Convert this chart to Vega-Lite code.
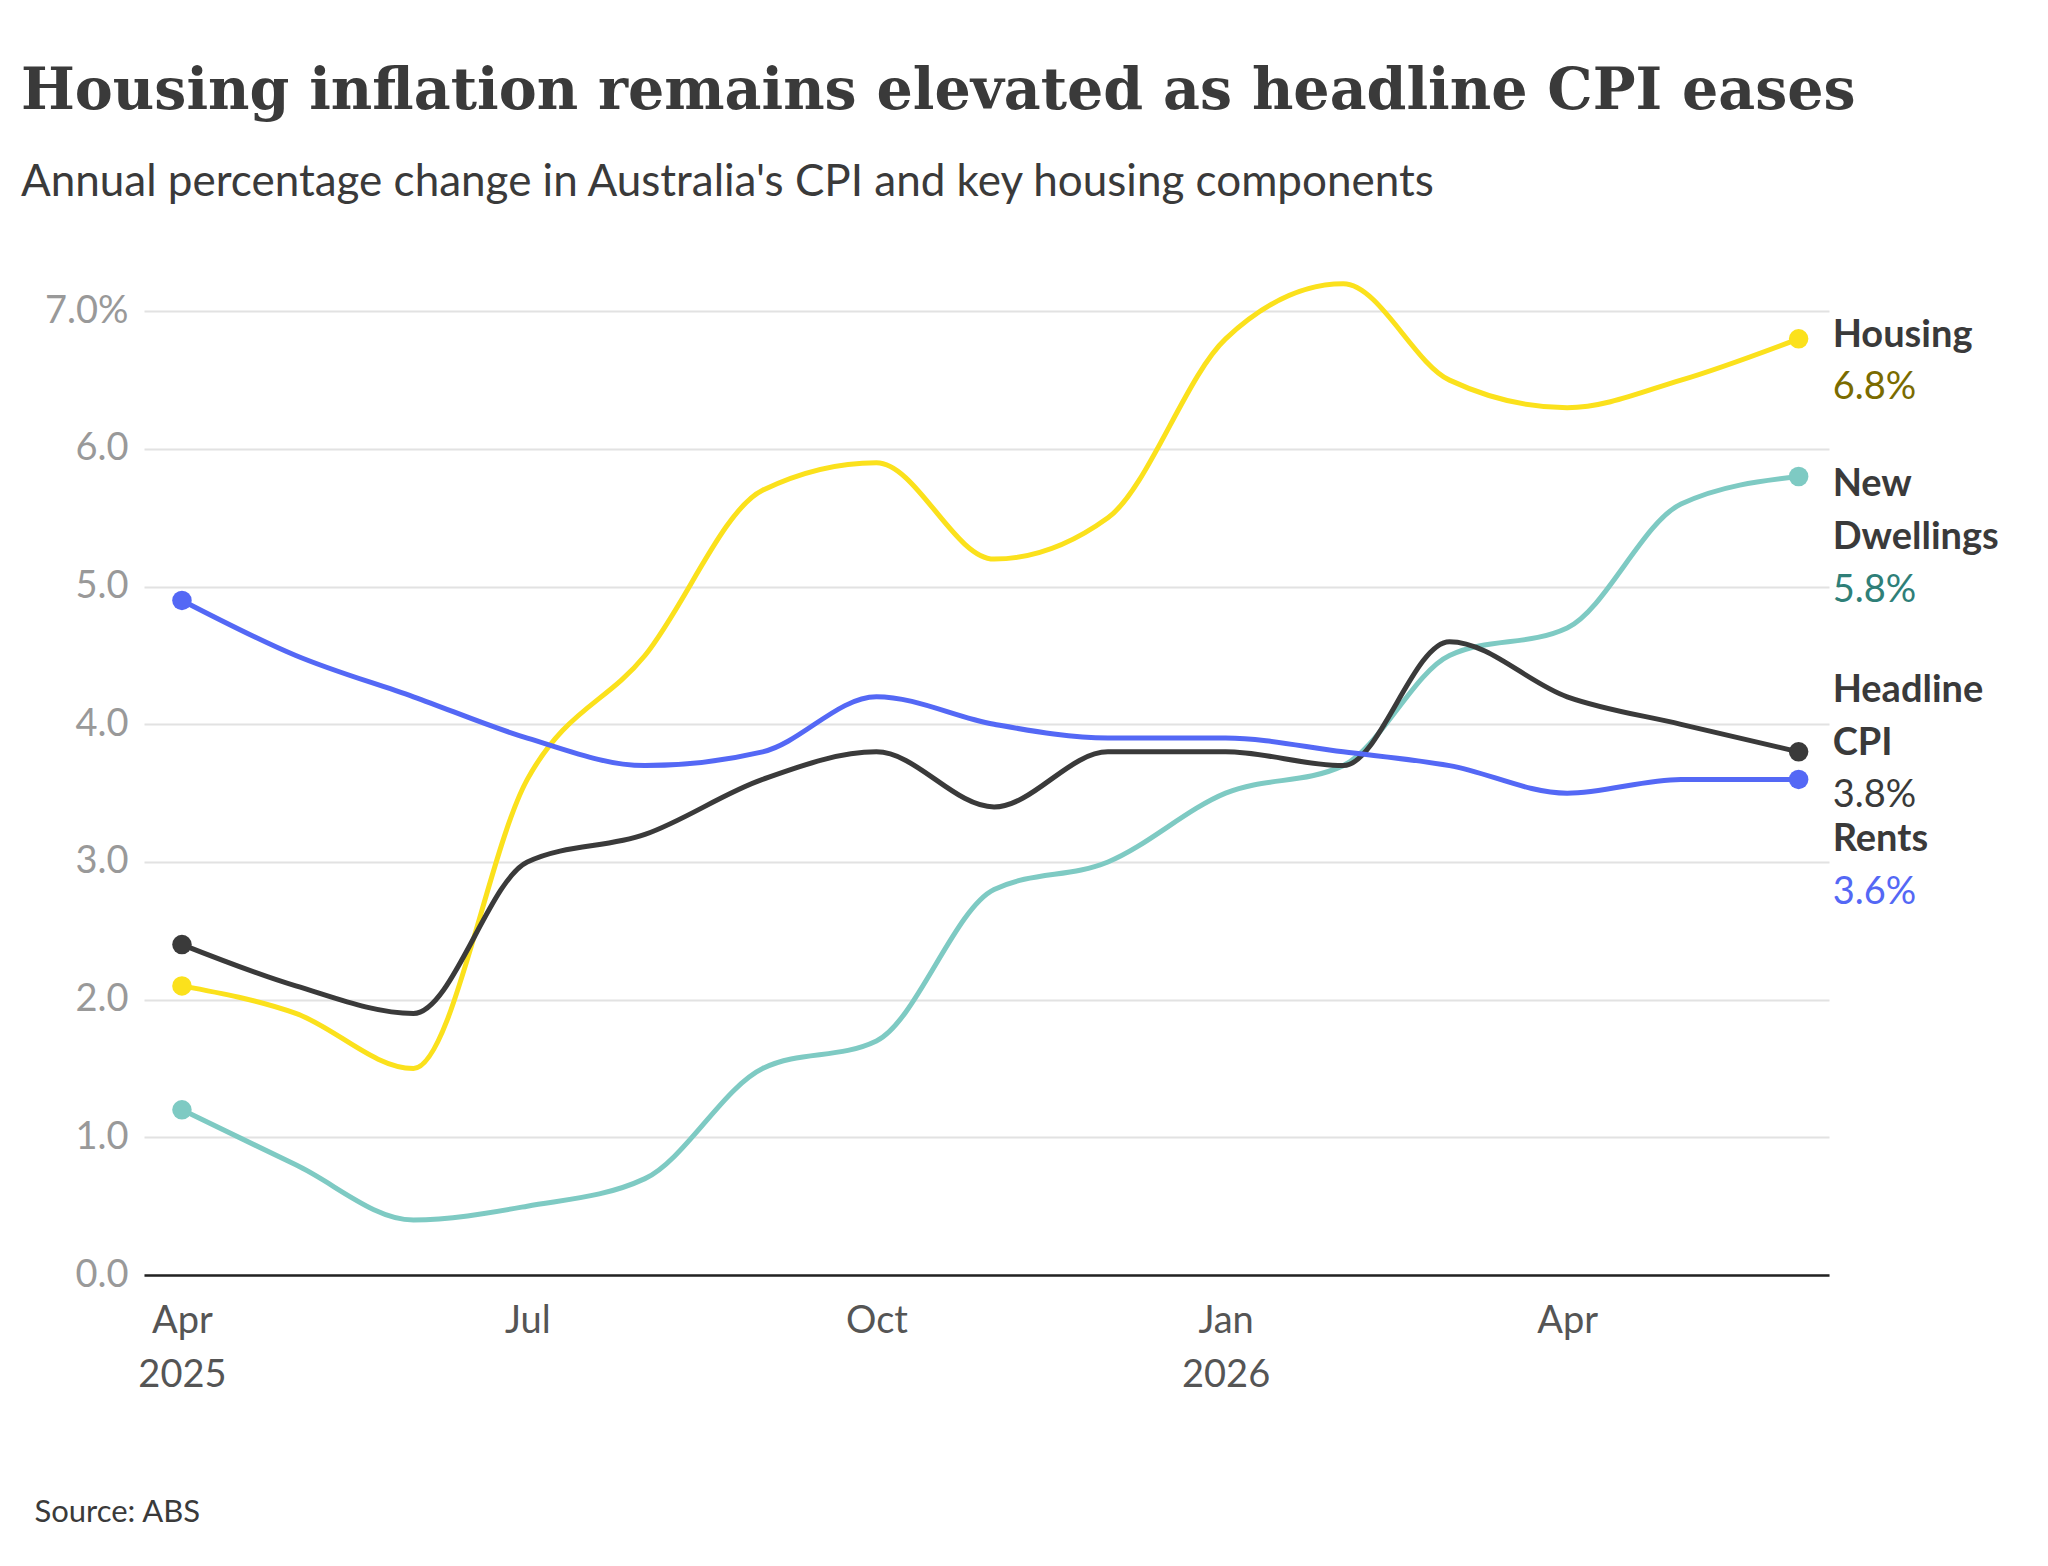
{
  "$schema": "https://vega.github.io/schema/vega-lite/v6.json",
  "autosize": "none",
  "width": 1685,
  "height": 1005,
  "padding": {"left": 144, "top": 270, "right": 219, "bottom": 291},
  "background": "white",
  "title": {
    "text": "Housing inflation remains elevated as headline CPI eases",
    "subtitle": "Annual percentage change in Australia's CPI and key housing components",
    "anchor": "start",
    "dx": -13,
    "offset": 64,
    "font": "DejaVu Serif",
    "fontSize": 57,
    "fontWeight": "bold",
    "color": "#3a3a3a",
    "subtitleFont": "Lato",
    "subtitleFontSize": 44,
    "subtitleColor": "#3a3a3a",
    "subtitlePadding": 40
  },
  "config": {"view": {"stroke": null}, "font": "Lato"},
  "data": {
    "values": [
      {"date": "2025-04-01", "Housing": 2.1, "New Dwellings": 1.2, "Headline CPI": 2.4, "Rents": 4.9},
      {"date": "2025-05-01", "Housing": 1.9, "New Dwellings": 0.8, "Headline CPI": 2.1, "Rents": 4.5},
      {"date": "2025-06-01", "Housing": 1.5, "New Dwellings": 0.4, "Headline CPI": 1.9, "Rents": 4.2},
      {"date": "2025-07-01", "Housing": 3.6, "New Dwellings": 0.5, "Headline CPI": 3.0, "Rents": 3.9},
      {"date": "2025-08-01", "Housing": 4.5, "New Dwellings": 0.7, "Headline CPI": 3.2, "Rents": 3.7},
      {"date": "2025-09-01", "Housing": 5.7, "New Dwellings": 1.5, "Headline CPI": 3.6, "Rents": 3.8},
      {"date": "2025-10-01", "Housing": 5.9, "New Dwellings": 1.7, "Headline CPI": 3.8, "Rents": 4.2},
      {"date": "2025-11-01", "Housing": 5.2, "New Dwellings": 2.8, "Headline CPI": 3.4, "Rents": 4.0},
      {"date": "2025-12-01", "Housing": 5.5, "New Dwellings": 3.0, "Headline CPI": 3.8, "Rents": 3.9},
      {"date": "2026-01-01", "Housing": 6.8, "New Dwellings": 3.5, "Headline CPI": 3.8, "Rents": 3.9},
      {"date": "2026-02-01", "Housing": 7.2, "New Dwellings": 3.7, "Headline CPI": 3.7, "Rents": 3.8},
      {"date": "2026-03-01", "Housing": 6.5, "New Dwellings": 4.5, "Headline CPI": 4.6, "Rents": 3.7},
      {"date": "2026-04-01", "Housing": 6.3, "New Dwellings": 4.7, "Headline CPI": 4.2, "Rents": 3.5},
      {"date": "2026-05-01", "Housing": 6.5, "New Dwellings": 5.6, "Headline CPI": 4.0, "Rents": 3.6},
      {"date": "2026-06-01", "Housing": 6.8, "New Dwellings": 5.8, "Headline CPI": 3.8, "Rents": 3.6}
    ]
  },
  "transform": [
    {"fold": ["Housing", "New Dwellings", "Headline CPI", "Rents"], "as": ["series", "value"]},
    {"calculate": "toDate(datum.date)", "as": "t"}
  ],
  "encoding": {
    "x": {
      "field": "t", "type": "temporal",
      "scale": {"type": "utc", "domain": [{"year": 2025, "month": 3, "date": 22, "utc": true}, {"year": 2026, "month": 6, "date": 9, "utc": true}]},
      "axis": {
        "title": "Source: ABS", "titleAnchor": "start", "titleX": -110, "titleY": 246,
        "titleFontSize": 31, "titleFontWeight": "normal", "titleColor": "#3a3a3a", "titleBaseline": "alphabetic",
        "values": [{"year": 2025, "month": 4, "date": 1, "utc": true}, {"year": 2025, "month": 7, "date": 1, "utc": true}, {"year": 2025, "month": 10, "date": 1, "utc": true}, {"year": 2026, "month": 1, "date": 1, "utc": true}, {"year": 2026, "month": 4, "date": 1, "utc": true}],
        "labelExpr": "utcmonth(datum.value)==0 || (utcyear(datum.value)==2025 && utcmonth(datum.value)==3) ? [utcFormat(datum.value,'%b'), utcFormat(datum.value,'%Y')] : utcFormat(datum.value,'%b')",
        "labelFontSize": 38, "labelColor": "#555", "labelPadding": 27, "labelLineHeight": 54,
        "ticks": false, "grid": false, "domainColor": "#222", "domainWidth": 2.5
      }
    },
    "y": {
      "field": "value", "type": "quantitative",
      "scale": {"domain": [0, 7.3], "nice": false},
      "axis": {
        "title": null, "values": [0, 1, 2, 3, 4, 5, 6, 7],
        "labelExpr": "datum.value==7 ? '7.0%' : format(datum.value,'.1f')",
        "labelFontSize": 38, "labelColor": "#999", "labelPadding": 16,
        "ticks": false, "domain": false, "gridColor": "#e2e2e2", "gridWidth": 2
      }
    },
    "color": {
      "field": "series", "type": "nominal", "legend": null,
      "scale": {"domain": ["Housing", "New Dwellings", "Headline CPI", "Rents"], "range": ["#fbe11c", "#7ecac3", "#3a3a3a", "#5468f5"]}
    }
  },
  "layer": [
    {"mark": {"type": "line", "interpolate": "monotone", "strokeWidth": 5}},
    {
      "transform": [{"filter": "datum.date=='2025-04-01' || datum.date=='2026-06-01'"}],
      "mark": {"type": "circle", "size": 380, "opacity": 1}
    },
    {
      "transform": [{"filter": "datum.date=='2026-06-01' && datum.series=='Housing'"}],
      "mark": {"type": "text", "align": "left", "baseline": "middle", "dx": 34, "dy": -3, "fontSize": 38, "fontWeight": "bold"},
      "encoding": {"text": {"value": "Housing"}, "color": {"value": "#3a3a3a"}}
    },
    {
      "transform": [{"filter": "datum.date=='2026-06-01' && datum.series=='Housing'"}],
      "mark": {"type": "text", "align": "left", "baseline": "middle", "dx": 34, "dy": 49, "fontSize": 38},
      "encoding": {"text": {"value": "6.8%"}, "color": {"value": "#7a6b00"}}
    },
    {
      "transform": [{"filter": "datum.date=='2026-06-01' && datum.series=='New Dwellings'"}],
      "mark": {"type": "text", "align": "left", "baseline": "middle", "dx": 34, "dy": 8, "fontSize": 38, "fontWeight": "bold"},
      "encoding": {"text": {"value": "New"}, "color": {"value": "#3a3a3a"}}
    },
    {
      "transform": [{"filter": "datum.date=='2026-06-01' && datum.series=='New Dwellings'"}],
      "mark": {"type": "text", "align": "left", "baseline": "middle", "dx": 34, "dy": 61, "fontSize": 38, "fontWeight": "bold"},
      "encoding": {"text": {"value": "Dwellings"}, "color": {"value": "#3a3a3a"}}
    },
    {
      "transform": [{"filter": "datum.date=='2026-06-01' && datum.series=='New Dwellings'"}],
      "mark": {"type": "text", "align": "left", "baseline": "middle", "dx": 34, "dy": 114, "fontSize": 38},
      "encoding": {"text": {"value": "5.8%"}, "color": {"value": "#2f7f78"}}
    },
    {
      "transform": [{"filter": "datum.date=='2026-06-01' && datum.series=='Headline CPI'"}],
      "mark": {"type": "text", "align": "left", "baseline": "middle", "dx": 34, "dy": -61, "fontSize": 38, "fontWeight": "bold"},
      "encoding": {"text": {"value": "Headline"}, "color": {"value": "#3a3a3a"}}
    },
    {
      "transform": [{"filter": "datum.date=='2026-06-01' && datum.series=='Headline CPI'"}],
      "mark": {"type": "text", "align": "left", "baseline": "middle", "dx": 34, "dy": -8, "fontSize": 38, "fontWeight": "bold"},
      "encoding": {"text": {"value": "CPI"}, "color": {"value": "#3a3a3a"}}
    },
    {
      "transform": [{"filter": "datum.date=='2026-06-01' && datum.series=='Headline CPI'"}],
      "mark": {"type": "text", "align": "left", "baseline": "middle", "dx": 34, "dy": 44, "fontSize": 38},
      "encoding": {"text": {"value": "3.8%"}, "color": {"value": "#3a3a3a"}}
    },
    {
      "transform": [{"filter": "datum.date=='2026-06-01' && datum.series=='Rents'"}],
      "mark": {"type": "text", "align": "left", "baseline": "middle", "dx": 34, "dy": 61, "fontSize": 38, "fontWeight": "bold"},
      "encoding": {"text": {"value": "Rents"}, "color": {"value": "#3a3a3a"}}
    },
    {
      "transform": [{"filter": "datum.date=='2026-06-01' && datum.series=='Rents'"}],
      "mark": {"type": "text", "align": "left", "baseline": "middle", "dx": 34, "dy": 114, "fontSize": 38},
      "encoding": {"text": {"value": "3.6%"}, "color": {"value": "#5468f5"}}
    }
  ]
}
